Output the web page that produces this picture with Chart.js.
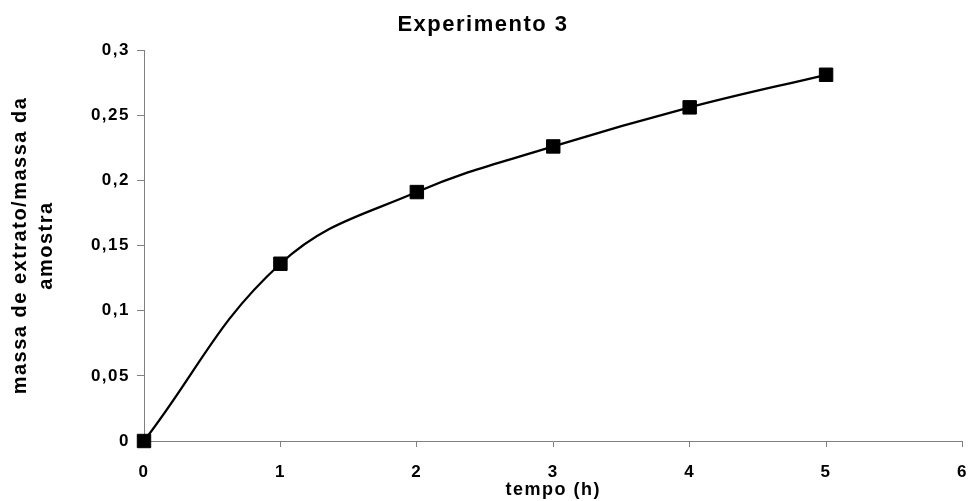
<!DOCTYPE html>
<html>
<head>
<meta charset="utf-8">
<script src="https://cdn.jsdelivr.net/npm/chart.js@4"></script>
<style>
  body { margin: 0; background: #fff; }
  canvas { display: block; }
</style>
</head>
<body>
<canvas id="chart" width="973" height="501"></canvas>
<script>
// values
const tempo = [0, 1, 2, 3, 4, 5];
const massa = [0, 0.136, 0.191, 0.226, 0.256, 0.281];

const FONT = "'Liberation Sans', Arial, sans-serif";
Chart.defaults.color = '#000';
Chart.defaults.font.family = FONT;

// the original text is spaced a little wider than plain Arial
const spacing = {
    id: 'spacing',
    beforeUpdate(chart) { chart.ctx.letterSpacing = '1.5px'; },
    beforeDraw(chart) { chart.ctx.letterSpacing = '1.5px'; }
};

const comma = v => String(Number(v.toFixed(2))).replace('.', ',');

const chart = new Chart(document.getElementById('chart'), {
    type: 'line',
    data: {
        datasets: [{
            label: 'Experimento 3',
            data: tempo.map((t, i) => ({ x: t, y: massa[i] })),
            borderColor: '#000',
            borderWidth: 2.3,
            tension: 0.4,
            pointStyle: 'rect',
            pointRadius: 9.5,
            pointBackgroundColor: '#000',
            pointBorderColor: '#000',
            pointBorderWidth: 1,
            clip: false
        }]
    },
    options: {
        responsive: false,
        animation: false,
        layout: { padding: { left: 0, right: 7, top: 0, bottom: 0 } },
        plugins: {
            legend: { display: false },
            tooltip: { enabled: false },
            title: {
                display: true,
                text: 'Experimento 3',
                color: '#000',
                font: { size: 22, weight: 'bold', family: FONT },
                padding: { top: 12, bottom: 11.6 }
            }
        },
        scales: {
            x: {
                type: 'linear',
                min: 0,
                max: 6,
                afterFit: s => {
                    s.height = 60;
                    s.paddingLeft = 0;
                    s.paddingRight = 0;
                },
                ticks: {
                    stepSize: 1,
                    padding: 15,
                    font: { size: 17, weight: 'bold' },
                    callback: comma
                },
                grid: { drawOnChartArea: false, tickLength: 6, color: '#808080' },
                border: { color: '#808080', width: 1 },
                title: {
                    display: true,
                    text: 'tempo (h)',
                    font: { size: 18, weight: 'bold' },
                    padding: { top: 0, bottom: 0 }
                }
            },
            y: {
                min: 0,
                max: 0.3,
                afterFit: s => { s.width = 144; },
                ticks: {
                    stepSize: 0.05,
                    padding: 7,
                    font: { size: 17, weight: 'bold' },
                    callback: comma
                },
                grid: { drawOnChartArea: false, tickLength: 7, color: '#808080' },
                border: { color: '#808080', width: 1 },
                title: {
                    display: true,
                    text: ['massa de extrato/massa da', 'amostra'],
                    font: { size: 20, weight: 'bold', lineHeight: 1.3 },
                    padding: { top: 7, bottom: 0 }
                }
            }
        }
    },
    plugins: [spacing]
});
</script>
</body>
</html>
